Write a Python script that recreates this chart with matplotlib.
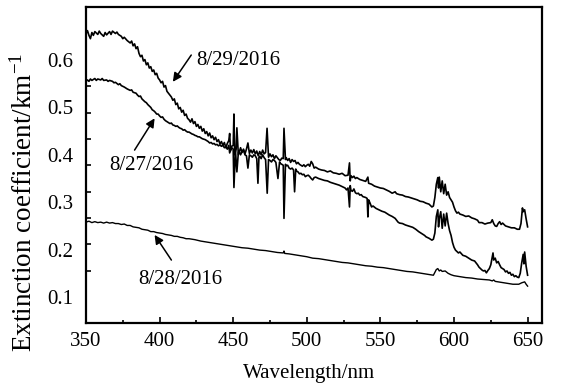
import numpy as np
import matplotlib
matplotlib.use("Agg")
import matplotlib.pyplot as plt

plt.rcParams['font.family'] = ['Liberation Serif', 'DejaVu Serif']
plt.rcParams['font.size'] = 15
plt.rcParams['mathtext.fontset'] = 'custom'
plt.rcParams['mathtext.rm'] = 'Liberation Serif'
plt.rcParams['mathtext.it'] = 'Liberation Serif:italic'

# 8/29/2016 (top curve)
wl_29 = [350, 351, 352, 353, 354, 355, 356, 358, 359, 360, 362, 363, 364, 366, 367, 368, 370, 371, 372, 374,
         375, 376, 378, 380, 381, 382, 383, 384, 385, 386, 387, 388, 389, 390, 391, 392, 393, 394, 395, 396,
         397, 398, 399, 400, 401, 402, 403, 404, 405, 406, 407, 408, 409, 410, 411, 412, 413, 414, 415, 416,
         417, 418, 419, 420, 421, 422, 423, 424, 425, 426, 427, 428, 429, 430, 431, 432, 433, 434, 435, 436,
         437, 438, 439, 440, 441, 442, 443, 444, 445, 446, 447, 447.6, 448.2, 449, 450, 450.5, 451, 452, 452.5, 453.5,
         455, 456, 457, 458, 459, 460, 461, 462, 463, 464, 465, 466, 467, 468, 469, 470, 471, 472, 473, 474,
         475, 476, 477, 478, 479, 480, 481, 482, 483, 484, 484.5, 485.5, 486, 487, 488, 489, 490, 491, 492, 493,
         494, 495, 496, 497, 498, 499, 500, 501, 502, 503, 504, 505, 506, 508, 510, 512, 514, 516, 518, 520,
         522, 524, 526, 528, 529, 529.5, 530, 531, 532, 533, 534, 536, 538, 540, 541.5, 542, 544, 546, 548, 550,
         552, 554, 556, 558, 560, 561, 563, 565, 567, 569, 571, 573, 575, 577, 579, 581, 583, 585, 586, 587,
         588, 589, 589.5, 590, 591, 592, 593, 594, 595, 596, 597, 598, 599, 600, 601, 602, 603, 604, 606, 608,
         610, 612, 614, 616, 617, 619, 621, 623, 625, 626, 627, 628, 629, 630, 631, 632, 633, 635, 637, 639,
         641, 643, 644.5, 645.5, 646.5, 647, 648, 649, 650]
ext_29 = [0.655, 0.662, 0.652, 0.645, 0.658, 0.652, 0.660, 0.654, 0.661, 0.656, 0.650, 0.658, 0.653, 0.660, 0.654, 0.661, 0.656, 0.659, 0.654, 0.650,
          0.645, 0.648, 0.641, 0.636, 0.640, 0.630, 0.634, 0.624, 0.628, 0.614, 0.607, 0.610, 0.598, 0.601, 0.590, 0.594, 0.583, 0.586, 0.576, 0.579,
          0.569, 0.572, 0.562, 0.558, 0.552, 0.555, 0.543, 0.546, 0.534, 0.530, 0.526, 0.522, 0.515, 0.518, 0.506, 0.509, 0.497, 0.500, 0.490, 0.494,
          0.483, 0.486, 0.477, 0.474, 0.469, 0.476, 0.466, 0.470, 0.460, 0.464, 0.456, 0.460, 0.450, 0.455, 0.445, 0.449, 0.440, 0.446, 0.436, 0.440,
          0.432, 0.437, 0.428, 0.432, 0.423, 0.428, 0.420, 0.426, 0.415, 0.424, 0.430, 0.445, 0.410, 0.418, 0.420, 0.486, 0.400, 0.412, 0.457, 0.400,
          0.415, 0.405, 0.412, 0.402, 0.412, 0.425, 0.403, 0.410, 0.404, 0.411, 0.402, 0.408, 0.398, 0.407, 0.400, 0.410, 0.402, 0.405, 0.456, 0.395,
          0.402, 0.396, 0.400, 0.392, 0.398, 0.394, 0.390, 0.388, 0.393, 0.392, 0.456, 0.390, 0.394, 0.388, 0.392, 0.384, 0.390, 0.386, 0.388, 0.381,
          0.384, 0.380, 0.378, 0.376, 0.379, 0.375, 0.378, 0.380, 0.376, 0.386, 0.381, 0.372, 0.374, 0.370, 0.368, 0.367, 0.364, 0.366, 0.362, 0.361,
          0.359, 0.361, 0.356, 0.357, 0.383, 0.345, 0.356, 0.352, 0.355, 0.350, 0.352, 0.348, 0.346, 0.344, 0.353, 0.340, 0.338, 0.334, 0.332, 0.330,
          0.329, 0.326, 0.323, 0.319, 0.322, 0.318, 0.316, 0.315, 0.312, 0.311, 0.309, 0.307, 0.305, 0.302, 0.301, 0.298, 0.296, 0.290, 0.292, 0.310,
          0.338, 0.352, 0.330, 0.353, 0.322, 0.345, 0.318, 0.338, 0.315, 0.322, 0.310, 0.305, 0.300, 0.290, 0.282, 0.277, 0.279, 0.275, 0.273, 0.270,
          0.271, 0.267, 0.265, 0.262, 0.257, 0.257, 0.254, 0.256, 0.257, 0.263, 0.255, 0.250, 0.249, 0.255, 0.259, 0.253, 0.256, 0.250, 0.248, 0.246,
          0.246, 0.243, 0.243, 0.255, 0.288, 0.280, 0.284, 0.265, 0.248]

# 8/27/2016 (middle curve)
wl_27 = [350, 351, 352, 353, 354, 356, 357, 358, 360, 361, 362, 364, 365, 366, 368, 369, 370, 372, 373, 374,
         376, 377, 378, 380, 381, 382, 384, 385, 386, 387, 388, 389, 390, 391, 392, 393, 394, 395, 396, 397,
         398, 399, 400, 401, 402, 403, 404, 405, 406, 407, 408, 409, 410, 411, 412, 413, 414, 415, 416, 417,
         418, 419, 420, 421, 422, 423, 424, 425, 426, 427, 428, 429, 430, 431, 432, 433, 434, 435, 436, 437,
         438, 439, 440, 441, 442, 443, 444, 445, 446, 447, 447.6, 449, 450, 450.5, 451.5, 452.5, 453.5, 454, 455, 456,
         457, 458, 459, 460, 461, 462, 463, 464, 465, 466, 466.8, 467.5, 468, 469, 470, 471, 472, 473.1, 474, 475,
         476, 477, 478, 479, 480.4, 481.5, 482, 483, 484, 484.5, 485.5, 486, 487, 488, 489, 490, 491, 491.7, 492.5, 493,
         494, 495, 496, 497, 498, 499, 500, 501, 502, 503, 504, 505, 506, 508, 510, 512, 514, 516, 518, 520,
         522, 524, 526, 527, 528, 529, 529.5, 530, 531, 532, 533, 534, 535, 536, 537, 538, 540, 541, 541.5, 542,
         543, 544, 545, 547, 549, 551, 553, 554, 556, 558, 560, 561, 562, 563, 565, 567, 569, 571, 572, 574,
         576, 578, 580, 581, 583, 585, 586, 587, 588, 589, 589.5, 590, 591, 592, 593, 594, 595, 596, 597, 598,
         599, 600, 601, 602, 603, 604, 606, 608, 610, 612, 614, 616, 617, 618, 619, 620, 621, 622, 623, 624,
         625, 626, 626.5, 627, 628, 629, 630, 631, 632, 633, 634, 635, 636, 637, 638, 639, 640, 641, 642, 643,
         644, 645, 646, 647, 647.5, 648, 649, 650]
ext_27 = [0.555, 0.558, 0.555, 0.560, 0.557, 0.561, 0.557, 0.560, 0.558, 0.561, 0.557, 0.558, 0.555, 0.557, 0.555, 0.552, 0.553, 0.548, 0.550, 0.546,
          0.543, 0.541, 0.539, 0.536, 0.537, 0.532, 0.530, 0.526, 0.523, 0.524, 0.518, 0.515, 0.512, 0.510, 0.506, 0.503, 0.500, 0.495, 0.493, 0.490,
          0.486, 0.486, 0.482, 0.479, 0.480, 0.475, 0.472, 0.470, 0.468, 0.466, 0.467, 0.463, 0.462, 0.460, 0.461, 0.458, 0.456, 0.455, 0.452, 0.453,
          0.450, 0.448, 0.448, 0.446, 0.444, 0.443, 0.441, 0.440, 0.438, 0.438, 0.436, 0.434, 0.433, 0.432, 0.430, 0.428, 0.425, 0.426, 0.423, 0.424,
          0.421, 0.422, 0.419, 0.421, 0.418, 0.420, 0.415, 0.417, 0.412, 0.420, 0.404, 0.415, 0.412, 0.331, 0.410, 0.364, 0.405, 0.408, 0.400, 0.407,
          0.410, 0.400, 0.398, 0.372, 0.400, 0.398, 0.395, 0.400, 0.398, 0.392, 0.340, 0.395, 0.397, 0.392, 0.400, 0.394, 0.390, 0.319, 0.390, 0.388,
          0.385, 0.390, 0.388, 0.384, 0.350, 0.385, 0.382, 0.380, 0.378, 0.266, 0.380, 0.377, 0.378, 0.372, 0.370, 0.372, 0.368, 0.322, 0.370, 0.366,
          0.364, 0.360, 0.361, 0.358, 0.359, 0.354, 0.356, 0.357, 0.354, 0.350, 0.347, 0.352, 0.353, 0.350, 0.348, 0.346, 0.345, 0.342, 0.340, 0.338,
          0.336, 0.333, 0.330, 0.326, 0.330, 0.290, 0.335, 0.325, 0.323, 0.328, 0.320, 0.318, 0.319, 0.315, 0.316, 0.312, 0.310, 0.308, 0.269, 0.305,
          0.298, 0.290, 0.292, 0.287, 0.284, 0.281, 0.279, 0.277, 0.273, 0.270, 0.266, 0.262, 0.258, 0.256, 0.255, 0.252, 0.250, 0.248, 0.247, 0.243,
          0.238, 0.234, 0.230, 0.227, 0.224, 0.220, 0.222, 0.235, 0.270, 0.284, 0.248, 0.265, 0.280, 0.245, 0.275, 0.250, 0.277, 0.255, 0.240, 0.230,
          0.215, 0.205, 0.199, 0.196, 0.193, 0.195, 0.188, 0.186, 0.182, 0.178, 0.176, 0.168, 0.163, 0.160, 0.157, 0.155, 0.156, 0.151, 0.156, 0.160,
          0.168, 0.185, 0.193, 0.178, 0.182, 0.172, 0.175, 0.168, 0.162, 0.160, 0.158, 0.153, 0.155, 0.150, 0.152, 0.146, 0.148, 0.143, 0.145, 0.142,
          0.141, 0.150, 0.172, 0.190, 0.170, 0.195, 0.165, 0.146]

# 8/28/2016 (bottom curve)
wl_28 = [350, 352, 354, 356, 358, 360, 362, 364, 366, 368, 370, 372, 374, 376, 378, 380, 382, 384, 386, 388,
         390, 392, 394, 396, 398, 400, 402, 404, 406, 408, 410, 412, 414, 416, 418, 420, 424, 428, 432, 436,
         440, 444, 448, 452, 456, 460, 464, 468, 472, 476, 480, 484, 484.5, 485, 488, 492, 496, 500, 504, 508,
         512, 516, 520, 524, 528, 532, 536, 540, 544, 548, 552, 556, 560, 564, 568, 572, 576, 580, 584, 586,
         587, 588, 589, 590, 591, 592, 594, 596, 598, 600, 604, 608, 612, 616, 620, 624, 626, 627, 628, 632,
         636, 640, 644, 646, 648, 649, 650]
ext_28 = [0.258, 0.260, 0.257, 0.259, 0.257, 0.258, 0.256, 0.258, 0.256, 0.257, 0.255, 0.255, 0.253, 0.254, 0.251, 0.251, 0.248, 0.247, 0.246, 0.243,
          0.242, 0.241, 0.238, 0.238, 0.236, 0.235, 0.234, 0.232, 0.231, 0.230, 0.228, 0.228, 0.226, 0.225, 0.223, 0.223, 0.221, 0.218, 0.216, 0.214,
          0.212, 0.210, 0.208, 0.206, 0.204, 0.203, 0.201, 0.199, 0.198, 0.196, 0.194, 0.193, 0.197, 0.192, 0.191, 0.189, 0.187, 0.185, 0.182, 0.181,
          0.179, 0.177, 0.175, 0.173, 0.172, 0.170, 0.168, 0.166, 0.165, 0.163, 0.162, 0.160, 0.158, 0.156, 0.154, 0.153, 0.151, 0.149, 0.147, 0.146,
          0.152, 0.158, 0.160, 0.155, 0.157, 0.154, 0.155, 0.150, 0.147, 0.145, 0.143, 0.141, 0.140, 0.138, 0.137, 0.136, 0.134, 0.136, 0.133, 0.131,
          0.129, 0.127, 0.127, 0.130, 0.132, 0.127, 0.123]

y_labels = [0.1, 0.2, 0.3, 0.4, 0.5, 0.6]
x_labels = [350, 400, 450, 500, 550, 600, 650]

fig = plt.figure(figsize=(5.61, 3.87), dpi=100)
ax = fig.add_axes([0.1533, 0.1661, 0.8134, 0.815])

ax.plot(wl_29, ext_29, color='k', lw=1.2)
ax.plot(wl_27, ext_27, color='k', lw=1.2)
ax.plot(wl_28, ext_28, color='k', lw=1.0)

ax.set_xlim(350, 660)
ax.set_ylim(0.0458, 0.7112)

ax.set_xticks(x_labels)
ax.set_xticks(np.arange(375, 660, 50), minor=True)
ax.set_yticks(y_labels)
ax.set_yticklabels([str(v) for v in y_labels])
# the tick marks on the y axis in the original don't line up with the labels
ax.set_yticks(np.linspace(0.1, 0.6, 10), minor=True)

ax.tick_params(axis='x', which='major', direction='in', length=4, width=1.2, pad=7, top=False)
ax.tick_params(axis='x', which='minor', direction='in', length=2.5, width=1.2, top=False)
ax.tick_params(axis='y', which='major', length=0, pad=9, right=False)
ax.tick_params(axis='y', which='minor', direction='in', length=3.5, width=1.2, right=False)

for s in ax.spines.values():
    s.set_linewidth(1.6)

ax.set_xlabel('Wavelength/nm')
ax.xaxis.set_label_coords(0.489, -0.13)
ax.set_ylabel('Extinction coefficient/km$^{-1}$', fontsize=19.5)
ax.yaxis.set_label_coords(-0.106, 0.383)

arrow = dict(arrowstyle='-|>', color='k', lw=1.1, mutation_scale=13, shrinkA=0, shrinkB=0)
ax.annotate('', xy=(409, 0.554), xytext=(421.5, 0.6105), arrowprops=arrow)
ax.text(424.9, 0.598, '8/29/2016', va='center', ha='left')
ax.annotate('', xy=(396.6, 0.477), xytext=(383, 0.410), arrowprops=arrow)
ax.text(366, 0.378, '8/27/2016', va='center', ha='left')
ax.annotate('', xy=(396.6, 0.231), xytext=(408, 0.178), arrowprops=arrow)
ax.text(385.7, 0.138, '8/28/2016', va='center', ha='left')

fig.savefig('out.png', dpi=100)
